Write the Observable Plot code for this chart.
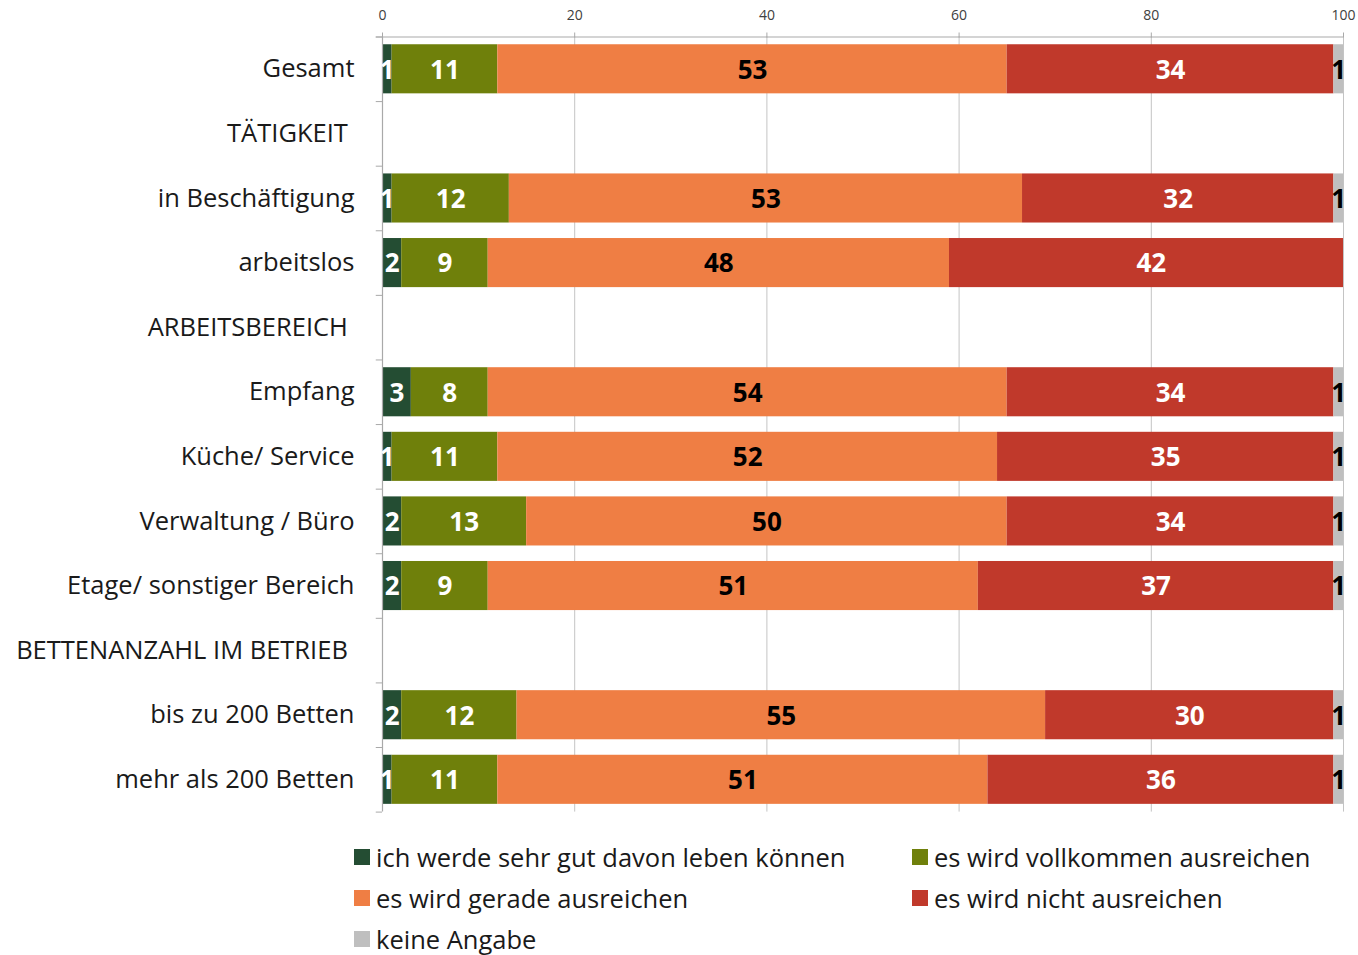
<!DOCTYPE html>
<html>
<head>
<meta charset="utf-8">
<script src="https://cdn.jsdelivr.net/npm/d3@7"></script>
<script src="https://cdn.jsdelivr.net/npm/@observablehq/plot@0.6"></script>
<style>
  body { margin: 0; background: #fff; font-family: "Open Sans", sans-serif; }
  #chart { position: absolute; left: 0; top: 0; }
  #legend { position: absolute; left: 354px; top: 842px; display: grid; grid-template-columns: 558px auto; row-gap: 11px; }
  .item { display: flex; align-items: center; font-size: 25.5px; color: #1a1a1a; height: 30px; }
  .sw { width: 16px; height: 16px; margin-right: 6px; flex: none; }
</style>
</head>
<body>
<div id="chart"></div>
<div id="legend"></div>
<script>
const categories = ["Gesamt", "TÄTIGKEIT", "in Beschäftigung", "arbeitslos", "ARBEITSBEREICH", "Empfang", "Küche/ Service", "Verwaltung / Büro", "Etage/ sonstiger Bereich", "BETTENANZAHL IM BETRIEB", "bis zu 200 Betten", "mehr als 200 Betten"];
const sections = ["TÄTIGKEIT", "ARBEITSBEREICH", "BETTENANZAHL IM BETRIEB"];
const answers = ["ich werde sehr gut davon leben können", "es wird vollkommen ausreichen", "es wird gerade ausreichen", "es wird nicht ausreichen", "keine Angabe"];
const colors = ["#244d33", "#6f800b", "#ef7e44", "#c0392b", "#bfbfbf"];
const labelColors = ["white", "white", "black", "white", "black"];
const xTicks = [0, 20, 40, 60, 80, 100];

// values per answer, aligned with categories (null = section header row)
const sehrGut      = [1, null, 1,    2,  null, 3,  1,  2,  2,  null, 2,  1];
const vollkommen   = [11, null, 12.2, 9,  null, 8,  11, 13, 9,  null, 12, 11];
const gerade       = [53, null, 53.4, 48, null, 54, 52, 50, 51, null, 55, 51];
const nicht        = [34, null, 32.4, 42, null, 34, 35, 34, 37, null, 30, 36];
const keineAngabe  = [1, null, 1,    0,  null, 1,  1,  1,  1,  null, 1,  1];
const series = [sehrGut, vollkommen, gerade, nicht, keineAngabe];

const data = [];
categories.forEach((c, i) => {
  series.forEach((s, j) => {
    const v = s[i];
    if (v != null && v > 0) data.push({category: c, answer: answers[j], value: v, idx: j});
  });
});

const width = 1358, height = 831, mt = 36.5, mb = 19.4;
const half = (height - mt - mb) / categories.length / 2;
const font = "Open Sans, sans-serif";

const stackOpts = (extra) => Plot.stackX({y: "category", x: "value", z: "answer", order: answers, ...extra});

const chart = Plot.plot({
  width, height,
  marginTop: mt, marginBottom: mb, marginLeft: 382, marginRight: 15,
  style: {fontFamily: font, background: "white", overflow: "visible"},
  x: {domain: [0, 100], axis: null, label: null},
  y: {domain: categories, paddingInner: 0.24, paddingOuter: 0.12, round: false, axis: null, label: null},
  color: {domain: answers, range: colors},
  marks: [
    Plot.ruleX(xTicks.slice(1), {stroke: "#c4c4c4", strokeWidth: 1}),
    Plot.barX(data, stackOpts({fill: "answer", clip: true})),
    Plot.ruleX([0], {stroke: "#a9a9a9", strokeWidth: 1.2}),
    // boundary ticks on the category axis
    Plot.ruleY(categories, {y: d => d, dy: -half, x1: -0.65, x2: 0, stroke: "#a9a9a9"}),
    Plot.ruleY([categories[categories.length - 1]], {y: d => d, dy: half, x1: -0.65, x2: 0, stroke: "#a9a9a9"}),
    // top axis line
    Plot.ruleY([categories[0]], {y: d => d, dy: -half, x1: -0.65, x2: 100, stroke: "#a9a9a9", strokeWidth: 1.2}),
    Plot.axisX({anchor: "top", ticks: xTicks, tickSize: 5, tickPadding: 12, fontSize: 14, stroke: "#a9a9a9", color: "#404040", label: null}),
    Plot.axisY({anchor: "left", tickSize: 0, tickPadding: 28, fontSize: 25.5, color: "#1a1a1a", label: null,
      tickFormat: d => sections.includes(d) ? d + "\u00a0" : d}),
    Plot.text(data, stackOpts({
      text: d => labelColors[d.idx] === "white" ? String(Math.round(d.value)) : null,
      fill: "white", fontSize: 26, fontWeight: "bold", dy: 1
    })),
    Plot.text(data, stackOpts({
      text: d => labelColors[d.idx] === "black" ? String(Math.round(d.value)) : null,
      fill: "black", fontSize: 26, fontWeight: "bold", dy: 1
    }))
  ]
});
document.getElementById("chart").appendChild(chart);

const legend = document.getElementById("legend");
answers.forEach((a, i) => {
  const div = document.createElement("div");
  div.className = "item";
  div.innerHTML = `<span class="sw" style="background:${colors[i]}"></span><span>${a}</span>`;
  legend.appendChild(div);
});
</script>
</body>
</html>
